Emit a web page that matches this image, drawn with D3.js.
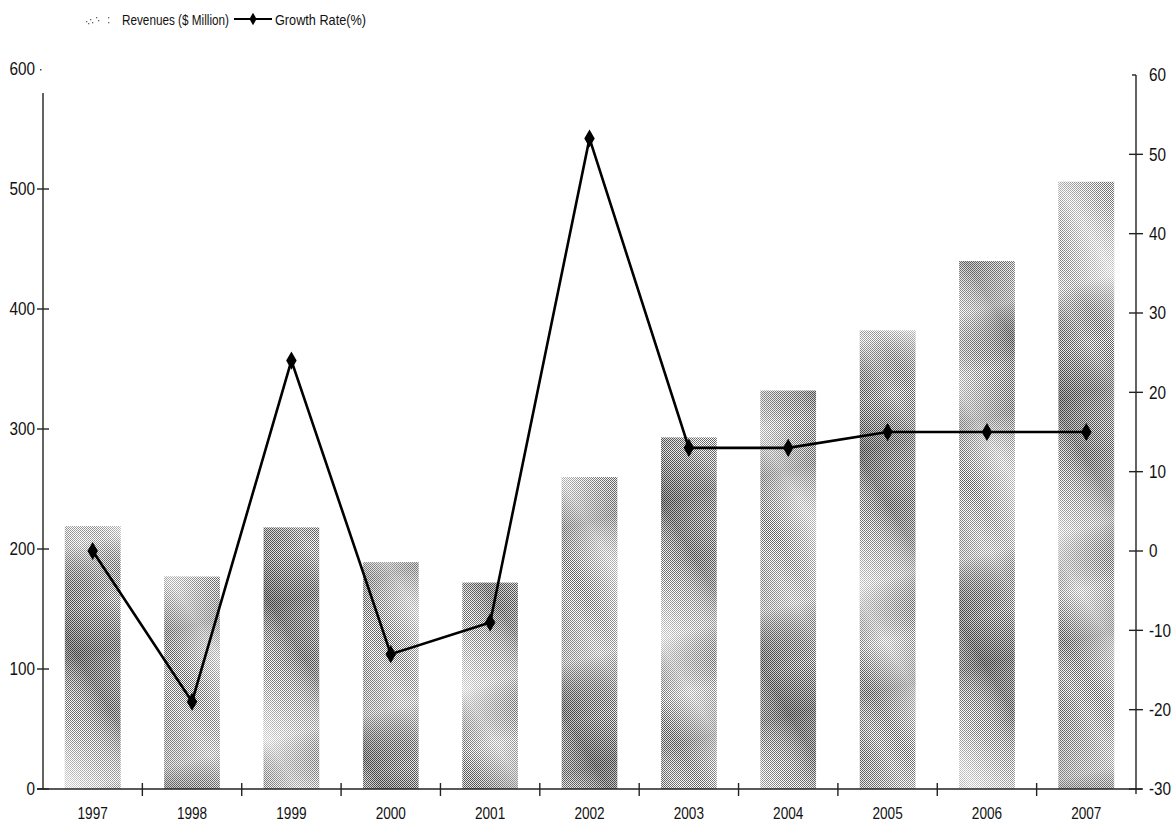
<!DOCTYPE html>
<html>
<head>
<meta charset="utf-8">
<script src="https://cdn.jsdelivr.net/npm/d3@7"></script>
<style>
  html, body { margin: 0; padding: 0; background: #fff; }
  svg { display: block; }
  text { font-family: "Liberation Sans Narrow", "Arial Narrow", "Liberation Sans", sans-serif; fill: #111; }
</style>
</head>
<body>
<svg id="chart" width="1175" height="832"></svg>
<script>
// Annual revenues and year-over-year growth
const years = ["1997", "1998", "1999", "2000", "2001", "2002", "2003", "2004", "2005", "2006", "2007"];
const revenues = [219, 177, 218, 189, 172, 260, 293, 332, 382, 440, 506];
const growth = [0, -19, 24, -13, -9, 52, 13, 13, 15, 15, 15];
const revenueTicks = [0, 100, 200, 300, 400, 500, 600];
const growthTicks = [-30, -20, -10, 0, 10, 20, 30, 40, 50, 60];
const legendLabels = ["Revenues ($ Million)", "Growth Rate(%)"];

const svg = d3.select("#chart");
const left = 43, right = 1136, bottom = 789;

const x = d3.scaleBand().domain(years).range([left, right]).paddingInner(0.44).paddingOuter(0.22);
const yRev = d3.scaleLinear().domain([0, 600]).range([bottom, 69]);
const yGrowth = d3.scaleLinear().domain([-30, 60]).range([bottom, 75]);

// Halftone texture for the bars
const defs = svg.append("defs");
const dots = defs.append("pattern").attr("id", "dots")
  .attr("width", 2).attr("height", 2).attr("patternUnits", "userSpaceOnUse");
dots.append("rect").attr("width", 2).attr("height", 2).attr("fill", "#fff");
dots.append("rect").attr("x", 0).attr("y", 0).attr("width", 1).attr("height", 1).attr("fill", "#555");
dots.append("rect").attr("x", 1).attr("y", 1).attr("width", 1).attr("height", 1).attr("fill", "#666");

// Two overlapping diagonal bandings give the mottled light/dark shading
function banding(id, x2, y2, stops) {
  const g = defs.append("linearGradient").attr("id", id)
    .attr("gradientUnits", "userSpaceOnUse")
    .attr("x1", 0).attr("y1", 0).attr("x2", x2).attr("y2", y2)
    .attr("spreadMethod", "repeat");
  stops.forEach(([o, c, a]) => g.append("stop").attr("offset", o).attr("stop-color", c).attr("stop-opacity", a));
}
banding("bandsA", 165, -100, [[0, "#fff", 0.0], [0.2, "#fff", 0.55], [0.4, "#fff", 0.1], [0.58, "#000", 0.22], [0.75, "#000", 0.08], [0.9, "#fff", 0.15], [1, "#fff", 0.0]]);
banding("bandsB", 60, 230, [[0, "#fff", 0.0], [0.3, "#fff", 0.35], [0.55, "#000", 0.0], [0.75, "#000", 0.15], [1, "#fff", 0.0]]);

const barG = svg.append("g");
years.forEach((yr, i) => {
  const bx = x(yr), bw = x.bandwidth(), by = yRev(revenues[i]), bh = bottom - by;
  barG.append("rect").attr("x", bx).attr("y", by).attr("width", bw).attr("height", bh).attr("fill", "url(#dots)");
  barG.append("rect").attr("x", bx).attr("y", by).attr("width", bw).attr("height", bh).attr("fill", "url(#bandsA)");
  barG.append("rect").attr("x", bx).attr("y", by).attr("width", bw).attr("height", bh).attr("fill", "url(#bandsB)");
});

// Axis lines
const axisG = svg.append("g").attr("stroke", "#222").attr("stroke-width", 1.4).attr("fill", "none");
axisG.append("line").attr("x1", left).attr("x2", left).attr("y1", yRev(600) + 24).attr("y2", bottom);
axisG.append("line").attr("x1", right).attr("x2", right).attr("y1", yGrowth(60)).attr("y2", bottom + 5);
axisG.append("line").attr("x1", right - 4).attr("x2", right).attr("y1", yGrowth(60)).attr("y2", yGrowth(60));
axisG.append("line").attr("x1", left - 6).attr("x2", right + 6).attr("y1", bottom).attr("y2", bottom);

// Left ticks and labels
revenueTicks.forEach(t => {
  const yy = yRev(t);
  if (t < 600) axisG.append("line").attr("x1", left - 6).attr("x2", left + 6).attr("y1", yy).attr("y2", yy);
  else svg.append("rect").attr("x", 40).attr("y", yy).attr("width", 1.5).attr("height", 1.5).attr("fill", "#444");
  svg.append("text").attr("x", 35).attr("y", yy).attr("dy", "0.35em").attr("text-anchor", "end")
    .attr("font-size", 18).attr("transform", `translate(35,0) scale(0.85,1) translate(-35,0)`).text(t);
});

// Right ticks and labels
growthTicks.forEach(t => {
  const yy = yGrowth(t);
  if (t < 60) axisG.append("line").attr("x1", right - 7).attr("x2", right + 7).attr("y1", yy).attr("y2", yy);
  svg.append("text").attr("x", 1149).attr("y", yy).attr("dy", "0.35em").attr("text-anchor", "start")
    .attr("font-size", 18).attr("transform", `translate(1149,0) scale(0.85,1) translate(-1149,0)`).text(t);
});

// Category separators and year labels
years.forEach((yr, i) => {
  if (i > 0) {
    const sx = x(yr) - x.step() * x.paddingInner() / 2;
    axisG.append("line").attr("x1", sx).attr("x2", sx).attr("y1", bottom - 6).attr("y2", bottom + 7);
  }
  const cx = x(yr) + x.bandwidth() / 2;
  svg.append("text").attr("x", cx).attr("y", 819).attr("text-anchor", "middle")
    .attr("font-size", 17).attr("transform", `translate(${cx},0) scale(0.8,1) translate(${-cx},0)`).text(yr);
});

// Growth line with diamond markers
const line = d3.line().x((d, i) => x(years[i]) + x.bandwidth() / 2).y(d => yGrowth(d));
svg.append("path").datum(growth).attr("d", line).attr("fill", "none").attr("stroke", "#000").attr("stroke-width", 2.6);
const diamond = d3.symbol().type(d3.symbolDiamond).size(95);
svg.append("g").selectAll("path").data(growth).join("path")
  .attr("d", diamond)
  .attr("transform", (d, i) => `translate(${x(years[i]) + x.bandwidth() / 2},${yGrowth(d)})`)
  .attr("fill", "#000");

// Legend
const lg = svg.append("g");
[[86, 21], [90, 19], [92, 22], [96, 17], [98, 20], [88, 23], [108, 17], [108, 22]].forEach(([px, py]) =>
  lg.append("rect").attr("x", px).attr("y", py).attr("width", 1.3).attr("height", 1.3).attr("fill", "#666"));
lg.append("text").attr("x", 122).attr("y", 25).attr("font-size", 15)
  .attr("textLength", 107).attr("lengthAdjust", "spacingAndGlyphs").text(legendLabels[0]);
lg.append("line").attr("x1", 234).attr("x2", 272).attr("y1", 19).attr("y2", 19).attr("stroke", "#000").attr("stroke-width", 1.8);
lg.append("path").attr("d", d3.symbol().type(d3.symbolDiamond).size(45)).attr("transform", "translate(253,19)").attr("fill", "#000");
lg.append("text").attr("x", 275).attr("y", 25).attr("font-size", 15)
  .attr("textLength", 91).attr("lengthAdjust", "spacingAndGlyphs").text(legendLabels[1]);
</script>
</body>
</html>
